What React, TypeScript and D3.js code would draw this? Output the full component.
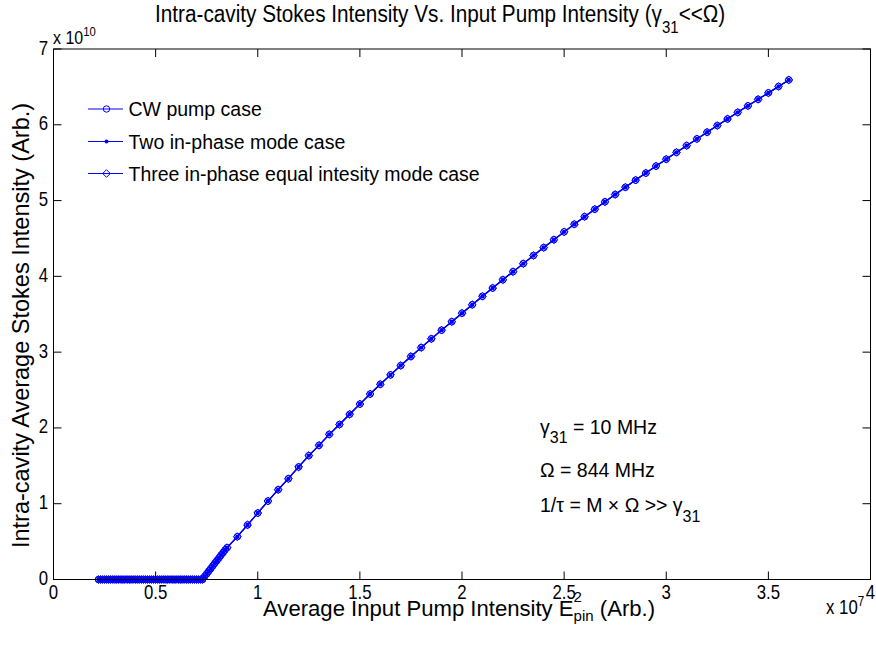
import React, { useRef, useLayoutEffect, useState } from 'react';
import * as d3 from 'd3';

// Average input pump intensity (x 1e7)
const pumpX = [
  0.22, 0.23, 0.24, 0.25, 0.26, 0.27, 0.28, 0.29, 0.30, 0.31, 0.32, 0.33, 0.34,
  0.35, 0.36, 0.37, 0.38, 0.39, 0.40, 0.41, 0.42, 0.43, 0.44, 0.45, 0.46, 0.47,
  0.48, 0.49, 0.50, 0.51, 0.52, 0.53, 0.54, 0.55, 0.56, 0.57, 0.58, 0.59, 0.60,
  0.61, 0.62, 0.63, 0.64, 0.65, 0.66, 0.67, 0.68, 0.69, 0.70, 0.71, 0.72, 0.73,
  0.74, 0.75, 0.76, 0.77, 0.78, 0.79, 0.80, 0.81, 0.82, 0.83, 0.84, 0.85,
  0.90, 0.95, 1.00, 1.05, 1.10, 1.15, 1.20, 1.25, 1.30, 1.35, 1.40,
  1.45, 1.50, 1.55, 1.60, 1.65, 1.70, 1.75, 1.80, 1.85, 1.90,
  1.95, 2.00, 2.05, 2.10, 2.15, 2.20, 2.25, 2.30,
  2.35, 2.40, 2.45, 2.50, 2.55, 2.60, 2.65, 2.70, 2.75, 2.80, 2.85, 2.90,
  2.95, 3.00, 3.05, 3.10, 3.15, 3.20, 3.25, 3.30, 3.35,
  3.40, 3.45, 3.50, 3.55, 3.60,
];

// Intra-cavity average Stokes intensity, CW pump case (x 1e10)
const cwStokes = [
  0, 0, 0, 0, 0, 0, 0, 0, 0, 0, 0, 0, 0,
  0, 0, 0, 0, 0, 0, 0, 0, 0, 0, 0, 0, 0,
  0, 0, 0, 0, 0, 0, 0, 0, 0, 0, 0, 0, 0,
  0, 0, 0, 0, 0, 0, 0, 0, 0, 0, 0, 0, 0,
  0.04, 0.075, 0.11, 0.145, 0.18, 0.215, 0.25, 0.285, 0.32, 0.355, 0.39, 0.42,
  0.565, 0.72, 0.877, 1.035, 1.185, 1.33, 1.485, 1.635, 1.77, 1.915, 2.045,
  2.18, 2.315, 2.447, 2.576, 2.70, 2.823, 2.943, 3.06, 3.176, 3.29,
  3.402, 3.514, 3.626, 3.737, 3.846, 3.955, 4.062, 4.168,
  4.275, 4.38, 4.484, 4.587, 4.688, 4.787, 4.886, 4.984, 5.08, 5.176, 5.27, 5.363,
  5.455, 5.546, 5.636, 5.725, 5.814, 5.902, 5.99, 6.077, 6.164,
  6.25, 6.336, 6.421, 6.506, 6.592,
];

// The two-mode and three-mode cases coincide with the CW case in the figure
const twoModeStokes = [...cwStokes];
const threeModeStokes = [...cwStokes];

const xTicks = [0, 0.5, 1, 1.5, 2, 2.5, 3, 3.5, 4];
const xTickLabels = ['0', '0.5', '1', '1.5', '2', '2.5', '3', '3.5', '4'];
const yTicks = [0, 1, 2, 3, 4, 5, 6, 7];
const yTickLabels = ['0', '1', '2', '3', '4', '5', '6', '7'];

const legendLabels = [
  'CW pump case',
  'Two in-phase mode case',
  'Three in-phase equal intesity mode case',
];

const W = 876;
const H = 647;
const BOX = { left: 53.5, right: 870.5, top: 49, bottom: 579.5 };
const BLUE = '#0000ff';
const FONT = '"Liberation Sans", Arial, Helvetica, sans-serif';
const NARROW = 0.84;

type NProps = {
  x: number;
  y: number;
  size: number;
  anchor?: 'start' | 'middle' | 'end';
  rotate?: boolean;
  fit?: number;
  children: React.ReactNode;
};

function NText({ x, y, size, anchor = 'start', rotate = false, fit, children }: NProps) {
  const ref = useRef<SVGTextElement>(null);
  const [sx, setSx] = useState(NARROW);
  useLayoutEffect(() => {
    if (fit && ref.current) {
      const w = ref.current.getBBox().width;
      if (w > 0) setSx(fit / w);
    }
  }, [fit]);
  return (
    <g transform={`translate(${x},${y})${rotate ? ' rotate(-90)' : ''} scale(${sx},1)`}>
      <text ref={ref} fontSize={size} textAnchor={anchor} fill="#000" fontFamily={FONT}>
        {children}
      </text>
    </g>
  );
}

function diamond(cx: number, cy: number, r: number) {
  return `M${cx},${cy - r}L${cx + r},${cy}L${cx},${cy + r}L${cx - r},${cy}Z`;
}

export default function App() {
  const x = d3.scaleLinear().domain([0, 4]).range([BOX.left, BOX.right]);
  const y = d3.scaleLinear().domain([0, 7]).range([BOX.bottom, BOX.top]);
  const line = d3
    .line<[number, number]>()
    .x((d) => x(d[0]))
    .y((d) => y(d[1]));

  const cwPts: [number, number][] = pumpX.map((v, i) => [v, cwStokes[i]]);
  const twoPts: [number, number][] = pumpX.map((v, i) => [v, twoModeStokes[i]]);
  const threePts: [number, number][] = pumpX.map((v, i) => [v, threeModeStokes[i]]);

  const tickLen = 8;
  const legendRows = [109, 141.5, 173.5];

  return (
    <svg
      width={W}
      height={H}
      viewBox={`0 0 ${W} ${H}`}
      style={{ position: 'absolute', left: 0, top: 0, background: '#fff' }}
      fontFamily={FONT}
    >
      <rect x={0} y={0} width={W} height={H} fill="#fff" />

      {/* data */}
      <path d={line(cwPts) || ''} fill="none" stroke={BLUE} strokeWidth={1.2} />
      <path d={line(twoPts) || ''} fill="none" stroke={BLUE} strokeWidth={1.2} />
      <path d={line(threePts) || ''} fill="none" stroke={BLUE} strokeWidth={1.2} />
      {cwPts.map((d, i) => (
        <circle key={'c' + i} cx={x(d[0])} cy={y(d[1])} r={3.3} fill="none" stroke={BLUE} strokeWidth={1} />
      ))}
      {twoPts.map((d, i) => (
        <circle key={'t' + i} cx={x(d[0])} cy={y(d[1])} r={2.2} fill={BLUE} />
      ))}
      {threePts.map((d, i) => (
        <path key={'d' + i} d={diamond(x(d[0]), y(d[1]), 3.9)} fill="none" stroke={BLUE} strokeWidth={1} />
      ))}

      {/* box */}
      <rect
        x={BOX.left}
        y={BOX.top}
        width={BOX.right - BOX.left}
        height={BOX.bottom - BOX.top}
        fill="none"
        stroke="#000"
        strokeWidth={1}
      />
      {xTicks.map((t) => (
        <g key={'xt' + t}>
          <line x1={x(t)} x2={x(t)} y1={BOX.bottom} y2={BOX.bottom - tickLen} stroke="#000" />
          <line x1={x(t)} x2={x(t)} y1={BOX.top} y2={BOX.top + tickLen} stroke="#000" />
        </g>
      ))}
      {yTicks.map((t) => (
        <g key={'yt' + t}>
          <line x1={BOX.left} x2={BOX.left + tickLen} y1={y(t)} y2={y(t)} stroke="#000" />
          <line x1={BOX.right} x2={BOX.right - tickLen} y1={y(t)} y2={y(t)} stroke="#000" />
        </g>
      ))}

      {/* tick labels */}
      {xTicks.map((t, i) => (
        <NText key={'xl' + t} x={x(t)} y={598.5} size={20} anchor="middle">
          {xTickLabels[i]}
        </NText>
      ))}
      {yTicks.map((t, i) => (
        <NText key={'yl' + t} x={48} y={y(t) + 5.5} size={20} anchor="end">
          {yTickLabels[i]}
        </NText>
      ))}

      {/* exponent labels */}
      <NText x={53} y={44} size={19}>
        x 10
        <tspan fontSize={13.5} dy={-8}>10</tspan>
      </NText>
      <NText x={826} y={614} size={20}>
        x 10
        <tspan fontSize={14} dy={-8}>7</tspan>
      </NText>

      {/* title */}
      <NText x={155} y={21.5} size={23.5} fit={570}>
        Intra-cavity Stokes Intensity Vs. Input Pump Intensity (γ
        <tspan fontSize={17} dy={11}>31</tspan>
        <tspan dy={-11}>{'<<Ω)'}</tspan>
      </NText>

      {/* axis labels */}
      <NText x={263} y={615.5} size={22} fit={392}>
        Average Input Pump Intensity E
        <tspan fontSize={15} dy={-14}>2</tspan>
        <tspan fontSize={15} dx={-8.4} dy={19}>pin</tspan>
        <tspan dy={-5}> (Arb.)</tspan>
      </NText>
      <NText x={29} y={325.5} size={23} anchor="middle" rotate fit={445}>
        Intra-cavity Average Stokes Intensity (Arb.)
      </NText>

      {/* legend */}
      {legendLabels.map((lab, i) => {
        const ly = legendRows[i];
        const mx = 106.5;
        return (
          <g key={'lg' + i}>
            <line x1={88} x2={123} y1={ly} y2={ly} stroke={BLUE} strokeWidth={1} />
            {i === 0 && <circle cx={mx} cy={ly} r={3.2} fill="none" stroke={BLUE} />}
            {i === 1 && <circle cx={mx} cy={ly} r={2} fill={BLUE} />}
            {i === 2 && <path d={diamond(mx, ly, 3.8)} fill="none" stroke={BLUE} />}
            <text x={128.5} y={ly + 7} fontSize={19.5} fill="#000">
              {lab}
            </text>
          </g>
        );
      })}

      {/* annotations */}
      <g fontSize={19.5} fill="#000">
        <text x={540} y={434}>
          γ<tspan fontSize={16} dy={9}>31</tspan>
          <tspan dy={-9}> = 10 MHz</tspan>
        </text>
        <text x={540} y={476.5}>Ω = 844 MHz</text>
        <text x={540} y={511.5}>
          1/τ = M × Ω {'>>'} γ<tspan fontSize={16} dy={10}>31</tspan>
        </text>
      </g>
    </svg>
  );
}
